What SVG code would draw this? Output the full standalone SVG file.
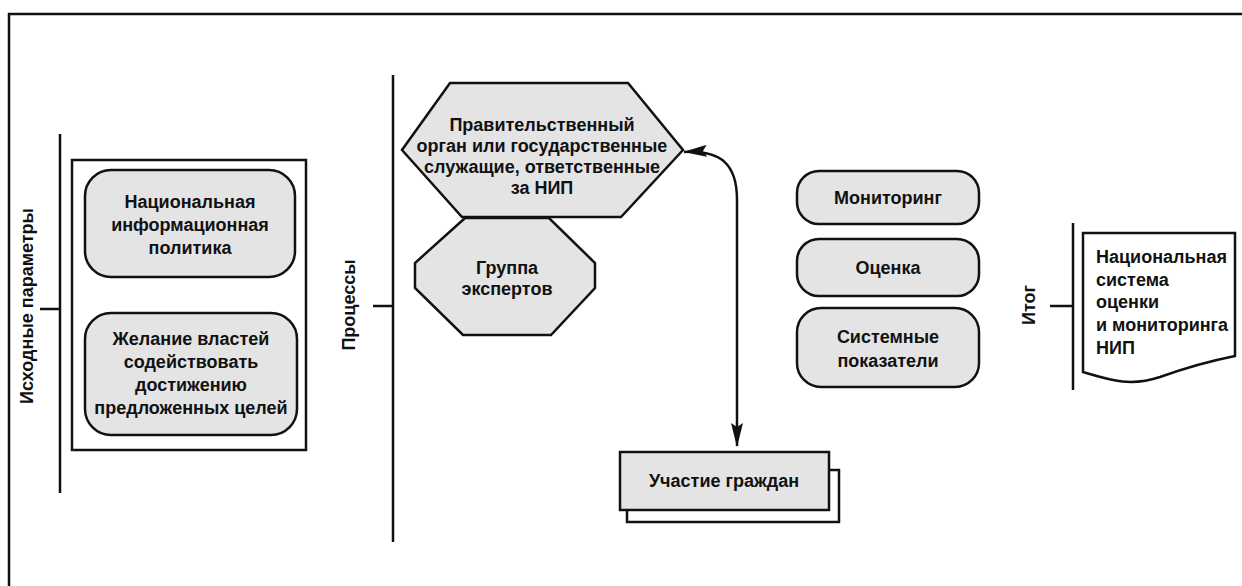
<svg xmlns="http://www.w3.org/2000/svg" width="1242" height="586" viewBox="0 0 1242 586">
<style>
.t{font-family:"Liberation Sans",Arial,sans-serif;font-weight:bold;font-size:18px;fill:#111;text-anchor:middle;dominant-baseline:central}
.tl{text-anchor:start}
.box{fill:#e4e4e4;stroke:#111;stroke-width:2.5}
.ln{fill:none;stroke:#111;stroke-width:2.5}
.conn{fill:none;stroke:#111;stroke-width:2.5}
</style>
<defs>
<marker id="arr" viewBox="0 0 24 12" refX="23" refY="6" markerWidth="24" markerHeight="12" markerUnits="userSpaceOnUse" orient="auto-start-reverse">
<path d="M0,0 L24,6 L0,12 L4,6 Z" fill="#111"/>
</marker>
</defs>
<rect width="1242" height="586" fill="#fff"/>
<g id="frame">
<path class="ln" d="M9,586 L9,14 L1242,14" stroke-width="3"/>
</g>
<g id="inputs">
<path class="ln" d="M60,134 L60,493 M40,309 L60,309"/>
<text class="t" transform="translate(27,306) rotate(-90)">Исходные параметры</text>
<rect class="ln" x="72" y="160" width="234" height="290"/>
</g>
<g id="node-policy">
<rect class="box" x="85" y="170" width="210" height="107" rx="26"/>
<text class="t" x="190" y="202">Национальная</text>
<text class="t" x="190" y="225">информационная</text>
<text class="t" x="190" y="248">политика</text>
</g>
<g id="node-will">
<rect class="box" x="85" y="313" width="212" height="122" rx="26"/>
<text class="t" x="191" y="339">Желание властей</text>
<text class="t" x="191" y="362">содействовать</text>
<text class="t" x="191" y="385">достижению</text>
<text class="t" x="191" y="408">предложенных целей</text>
</g>
<g id="processes">
<path class="ln" d="M393,75 L393,542 M373,306 L393,306"/>
<text class="t" transform="translate(349,305) rotate(-90)">Процессы</text>
</g>
<g id="node-gov">
<polygon class="box" points="450,83 628,83 683,150 621,217 462,217 402,150"/>
<text class="t" x="542" y="125">Правительственный</text>
<text class="t" x="542" y="146">орган или государственные</text>
<text class="t" x="542" y="167">служащие, ответственные</text>
<text class="t" x="542" y="188">за НИП</text>
</g>
<g id="node-experts">
<polygon class="box" points="465,218 549,218 595,263 595,288 551,335 463,335 415,288 415,263"/>
<text class="t" x="507" y="268">Группа</text>
<text class="t" x="507" y="289">экспертов</text>
</g>
<g id="node-citizens">
<rect class="ln" x="627" y="470" width="212" height="52" fill="#fff"/>
<rect class="box" x="620" y="452" width="209" height="58"/>
<text class="t" x="724" y="481">Участие граждан</text>
</g>
<g id="node-monitoring">
<rect class="box" x="797" y="171" width="182" height="53" rx="22"/>
<text class="t" x="888" y="198">Мониторинг</text>
</g>
<g id="node-evaluation">
<rect class="box" x="797" y="239" width="182" height="57" rx="22"/>
<text class="t" x="888" y="268">Оценка</text>
</g>
<g id="node-indicators">
<rect class="box" x="797" y="308" width="182" height="79" rx="24"/>
<text class="t" x="888" y="337">Системные</text>
<text class="t" x="888" y="361">показатели</text>
</g>
<g id="result">
<path class="ln" d="M1073,223 L1073,390 M1050,306 L1073,306"/>
<text class="t" transform="translate(1029,305) rotate(-90)">Итог</text>
</g>
<g id="node-system">
<path d="M1083,233 L1235,233 L1235,356 C1205,362 1185,368 1160,377 C1130,387 1110,380 1083,372 Z" fill="#fff" stroke="#111" stroke-width="2.5"/>
<text class="t tl" x="1096" y="257">Национальная</text>
<text class="t tl" x="1096" y="280">система</text>
<text class="t tl" x="1096" y="302">оценки</text>
<text class="t tl" x="1096" y="325">и мониторинга</text>
<text class="t tl" x="1096" y="348">НИП</text>
</g>
<g id="connectors">
<path class="conn" d="M684,152 C722,150 737,165 737,200 L737,446" marker-start="url(#arr)" marker-end="url(#arr)"/>
</g>
</svg>
